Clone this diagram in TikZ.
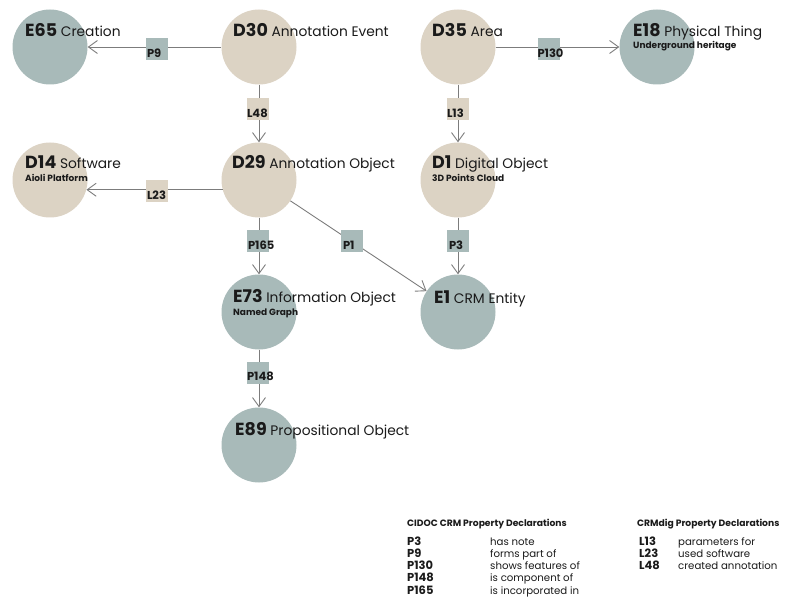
\documentclass[tikz,border=0pt]{standalone}
\usepackage{fontspec}
\setmainfont{Poppins}
\usetikzlibrary{arrows.meta}
\definecolor{beige}{HTML}{DCD3C4}
\definecolor{sage}{HTML}{A8BAB9}
\definecolor{ink}{HTML}{1A1A1A}
\definecolor{wire}{HTML}{7C7C7C}
\tikzset{
  cls/.style={circle, minimum size=75pt, inner sep=0pt, draw=none},
  clsb/.style={cls, fill=beige},
  clsg/.style={cls, fill=sage},
  ttl/.style={anchor=base west, inner sep=0pt, text=ink, font=\fontsize{13.8}{15}\selectfont},
  sub/.style={anchor=base west, inner sep=0pt, text=ink, font=\fontsize{9}{10}\selectfont\bfseries},
  pbox/.style={minimum size=22pt, inner sep=0pt, draw=none},
  pboxb/.style={pbox, fill=beige},
  pboxg/.style={pbox, fill=sage},
  ptxt/.style={anchor=base west, inner sep=0pt, text=ink, font=\fontsize{11.5}{12}\selectfont\bfseries},
  arr/.style={draw=wire, line width=0.9pt, -{Straight Barb[length=9pt,width=13pt,line width=0.9pt]}},
  lhead/.style={anchor=base west, inner sep=0pt, text=ink, font=\fontsize{9.2}{10}\selectfont\bfseries},
  lcode/.style={anchor=base west, inner sep=0pt, text=ink, font=\fontsize{11.5}{12}\selectfont\bfseries},
  ldesc/.style={anchor=base west, inner sep=0pt, text=ink, font=\fontsize{10.2}{12}\selectfont},
}
\newcommand{\cd}[1]{{\fontsize{17.5}{18}\selectfont\bfseries #1}}
\begin{document}
\begin{tikzpicture}[x=1pt,y=-1pt]
\useasboundingbox (0,0) rectangle (798,604);
% circles
\node[clsg] (E65) at (50,47) {};
\node[clsb] (D30) at (259,47) {};
\node[clsb] (D35) at (458,47) {};
\node[clsg] (E18) at (657,47) {};
\node[clsb] (D14) at (50,180) {};
\node[clsb] (D29) at (259,180) {};
\node[clsb] (D1) at (458,180) {};
\node[clsg] (E73) at (259,312) {};
\node[clsg] (E1) at (458,312) {};
\node[clsg] (E89) at (259,445) {};
% titles
\node[ttl] (E65t) at (25,37) {\cd{E65} Creation};
\node[ttl] (D30t) at (233,37) {\cd{D30} Annotation Event};
\node[ttl] (D35t) at (432,37) {\cd{D35} Area};
\node[ttl] (E18t) at (633,36.5) {\cd{E18} Physical Thing};
\node[sub] (E18s) at (633,49) {Underground heritage};
\node[ttl] (D14t) at (25,168.5) {\cd{D14} Software};
\node[sub] (D14s) at (25,181.5) {Aioli Platform};
\node[ttl] (D29t) at (232,169) {\cd{D29} Annotation Object};
\node[ttl] (D1t) at (432,168.5) {\cd{D1} Digital Object};
\node[sub] (D1s) at (432,181.5) {3D Points Cloud};
\node[ttl] (E73t) at (233,302) {\cd{E73} Information Object};
\node[sub] (E73s) at (233,315.5) {Named Graph};
\node[ttl] (E1t) at (434,303) {\cd{E1} CRM Entity};
\node[ttl] (E89t) at (235,435) {\cd{E89} Propositional Object};
% connectors
\draw[arr] (D30) -- (E65);
\draw[arr] (D35) -- (E18);
\draw[arr] (D30) -- (D29);
\draw[arr] (D35) -- (D1);
\draw[arr] (D29.195) -- (D14.345);
\draw[arr] (D29) -- (E73);
\draw[arr] (D29) -- (E1);
\draw[arr] (D1) -- (E1);
\draw[arr] (E73) -- (E89);
% property boxes
\node[pboxg] (P9) at (157,49) {};
\node[pboxg] (P130) at (548.5,49) {};
\node[pboxb] (L48) at (258,109) {};
\node[pboxb] (L13) at (458,109) {};
\node[pboxb] (L23) at (157,191) {};
\node[pboxg] (P165) at (258,241) {};
\node[pboxg] (P1) at (352,241) {};
\node[pboxg] (P3) at (458,241) {};
\node[pboxg] (P148) at (258,372.5) {};
\node[ptxt] (P9t) at ([xshift=1pt,yshift=3pt]P9.south west) {P9};
\node[ptxt] (P130t) at ([xshift=0pt,yshift=3pt]P130.south west) {P130};
\node[ptxt] (L48t) at ([xshift=0pt,yshift=3pt]L48.south west) {L48};
\node[ptxt] (L13t) at ([xshift=0pt,yshift=3pt]L13.south west) {L13};
\node[ptxt] (L23t) at ([xshift=1pt,yshift=3pt]L23.south west) {L23};
\node[ptxt] (P165t) at ([xshift=1pt,yshift=3pt]P165.south west) {P165};
\node[ptxt] (P1t) at ([xshift=2pt,yshift=3pt]P1.south west) {P1};
\node[ptxt] (P3t) at ([xshift=2pt,yshift=3pt]P3.south west) {P3};
\node[ptxt] (P148t) at ([xshift=0pt,yshift=3pt]P148.south west) {P148};
% legend
\node[lhead] (h1) at (407,526) {CIDOC CRM Property Declarations};
\node[lhead] (h2) at (637,526) {CRMdig Property Declarations};
\node[lcode] (c1) at (407,545) {P3};
\node[lcode] (c2) at (407,557.3) {P9};
\node[lcode] (c3) at (407,569.6) {P130};
\node[lcode] (c4) at (407,581.9) {P148};
\node[lcode] (c5) at (407,594.2) {P165};
\node[ldesc] (d1) at (490,545) {has note};
\node[ldesc] (d2) at (490,557.3) {forms part of};
\node[ldesc] (d3) at (490,569.6) {shows features of};
\node[ldesc] (d4) at (490,581.9) {is component of};
\node[ldesc] (d5) at (490,594.2) {is incorporated in};
\node[lcode] (k1) at (639,545) {L13};
\node[lcode] (k2) at (639,557.3) {L23};
\node[lcode] (k3) at (639,569.6) {L48};
\node[ldesc] (e1) at (678,545) {parameters for};
\node[ldesc] (e2) at (678,557.3) {used software};
\node[ldesc] (e3) at (678,569.6) {created annotation};
\end{tikzpicture}
\end{document}
